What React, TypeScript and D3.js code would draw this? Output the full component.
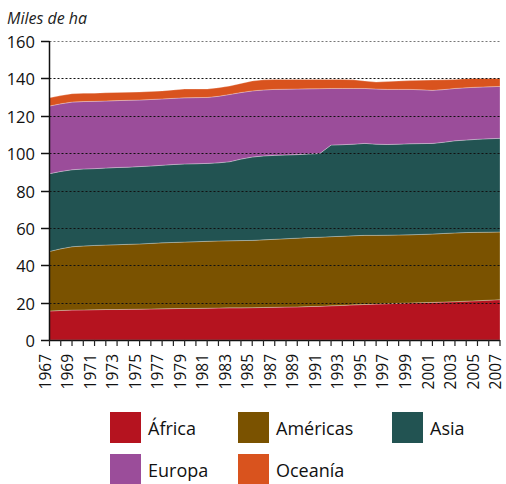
import { useEffect, useRef } from 'react';
import * as d3 from 'd3';

const years = [
  1967, 1968, 1969, 1970, 1971, 1972, 1973, 1974, 1975, 1976, 1977, 1978, 1979, 1980,
  1981, 1982, 1983, 1984, 1985, 1986, 1987, 1988, 1989, 1990, 1991, 1992, 1993, 1994,
  1995, 1996, 1997, 1998, 1999, 2000, 2001, 2002, 2003, 2004, 2005, 2006, 2007,
];

// thousand ha, per region (not cumulative)
const africa = [
  15.5, 15.8, 16.0, 16.1, 16.2, 16.3, 16.3, 16.4, 16.5, 16.6, 16.7, 16.8, 16.9, 16.9,
  17.0, 17.1, 17.2, 17.2, 17.3, 17.4, 17.5, 17.6, 17.7, 17.9, 18.0, 18.3, 18.5, 18.8,
  19.0, 19.2, 19.4, 19.6, 19.8, 20.0, 20.1, 20.3, 20.5, 20.8, 21.0, 21.3, 21.6,
];
const americas = [
  31.9, 33.0, 33.9, 34.2, 34.4, 34.5, 34.7, 34.8, 34.9, 35.1, 35.3, 35.4, 35.5, 35.7,
  35.8, 35.9, 35.9, 36.0, 36.0, 36.2, 36.4, 36.6, 36.8, 36.9, 37.0, 37.0, 37.0, 37.0,
  37.0, 36.8, 36.7, 36.6, 36.5, 36.5, 36.6, 36.7, 36.8, 36.7, 36.6, 36.4, 36.2,
];
const asia = [
  41.6, 41.4, 41.2, 41.2, 41.1, 41.2, 41.3, 41.3, 41.4, 41.4, 41.5, 41.7, 41.8, 41.7,
  41.7, 41.8, 42.3, 43.6, 44.6, 44.9, 44.9, 44.8, 44.7, 44.7, 44.8, 49.0, 49.0, 49.0,
  49.2, 48.8, 48.5, 48.6, 48.7, 48.6, 48.5, 48.8, 49.3, 49.5, 49.8, 50.0, 50.1,
];
const europa = [
  36.2, 36.2, 36.2, 36.1, 36.0, 35.9, 35.8, 35.8, 35.6, 35.6, 35.5, 35.4, 35.4, 35.4,
  35.3, 35.6, 36.0, 35.6, 35.4, 35.3, 35.3, 35.2, 35.1, 34.9, 34.7, 30.3, 30.1, 29.8,
  29.4, 29.5, 29.5, 29.3, 29.1, 28.8, 28.4, 28.2, 28.0, 28.0, 27.9, 27.8, 27.8,
];
const oceania = [
  4.4, 4.4, 4.5, 4.4, 4.4, 4.4, 4.4, 4.3, 4.3, 4.3, 4.3, 4.5, 4.7, 4.6,
  4.5, 4.6, 4.5, 4.9, 5.3, 5.4, 5.3, 5.2, 5.1, 5.0, 4.9, 4.8, 4.8, 4.6,
  4.0, 3.7, 4.2, 4.5, 4.7, 5.1, 5.5, 5.2, 4.8, 4.8, 4.7, 4.5, 4.3,
];

const seriesNames = ['África', 'Américas', 'Asia', 'Europa', 'Oceanía'];
const seriesColors = ['#b5131f', '#7a5200', '#225352', '#9b4d9a', '#d9531e'];
const yTicks = [0, 20, 40, 60, 80, 100, 120, 140, 160];

const W = 506;
const H = 484;
const FONT = '"Open Sans", "Noto Sans", sans-serif';

export default function App() {
  const svgRef = useRef<SVGSVGElement>(null);

  useEffect(() => {
    if (!svgRef.current) return;
    const svg = d3.select(svgRef.current);
    svg.selectAll('*').remove();

    const values = [africa, americas, asia, europa, oceania];
    const rows = years.map((year, i) => {
      const row: Record<string, number> = { year };
      seriesNames.forEach((name, s) => { row[name] = values[s][i]; });
      return row;
    });

    const x = d3.scaleLinear().domain([1967, 2007]).range([49.5, 500]);
    const y = d3.scaleLinear().domain([0, 160]).range([340, 41]);

    const stacked = d3.stack<Record<string, number>>().keys(seriesNames)(rows);
    const area = d3.area<d3.SeriesPoint<Record<string, number>>>()
      .x(d => x(d.data.year))
      .y0(d => y(d[0]))
      .y1(d => y(d[1]));

    // Stacked areas
    svg.append('g')
      .selectAll('path')
      .data(stacked)
      .enter()
      .append('path')
      .attr('d', area)
      .attr('fill', (d, i) => seriesColors[i])
      .attr('stroke', 'rgba(255,255,255,0.45)')
      .attr('stroke-width', 0.6);

    // Gridlines on top
    svg.append('g')
      .selectAll('line')
      .data(yTicks.filter(t => t > 0))
      .enter()
      .append('line')
      .attr('x1', 49.5)
      .attr('x2', 500)
      .attr('y1', d => Math.round(y(d)) + 0.5)
      .attr('y2', d => Math.round(y(d)) + 0.5)
      .attr('stroke', d => (d === 160 ? '#777' : '#111'))
      .attr('stroke-width', 1)
      .attr('stroke-dasharray', '2,2');

    // Y axis
    const yAxis = svg.append('g');
    yAxis.append('line')
      .attr('x1', 49.5).attr('x2', 49.5)
      .attr('y1', y(160)).attr('y2', y(0))
      .attr('stroke', '#111').attr('stroke-width', 1.5);
    yTicks.forEach(t => {
      const ty = Math.round(y(t)) + 0.5;
      yAxis.append('line')
        .attr('x1', 41).attr('x2', 49.5)
        .attr('y1', ty).attr('y2', ty)
        .attr('stroke', '#111').attr('stroke-width', 1.5);
      yAxis.append('text')
        .attr('x', 35)
        .attr('y', ty)
        .attr('dy', '0.42em')
        .attr('text-anchor', 'end')
        .attr('font-size', '16.5px')
        .attr('fill', '#111')
        .style('font-family', FONT)
        .text(t);
    });

    // X axis
    const xAxis = svg.append('g');
    xAxis.append('line')
      .attr('x1', 49.5).attr('x2', 500)
      .attr('y1', 340.5).attr('y2', 340.5)
      .attr('stroke', '#111').attr('stroke-width', 1.5);
    years.forEach(yr => {
      const tx = x(yr);
      xAxis.append('line')
        .attr('x1', tx).attr('x2', tx)
        .attr('y1', 340).attr('y2', 346)
        .attr('stroke', '#222').attr('stroke-width', 1.2);
    });
    years.filter((yr, i) => i % 2 === 0).forEach(yr => {
      xAxis.append('text')
        .attr('transform', `translate(${x(yr) - 2}, 354) rotate(-90)`)
        .attr('dy', '0.2em')
        .attr('text-anchor', 'end')
        .attr('font-size', '15.5px')
        .attr('fill', '#111')
        .style('font-family', FONT)
        .text(yr);
    });

    // Unit label
    svg.append('text')
      .attr('x', 7)
      .attr('y', 24)
      .attr('font-size', '16px')
      .attr('font-style', 'italic')
      .attr('fill', '#222')
      .style('font-family', FONT)
      .text('Miles de ha');

    // Legend
    const legendX = [110, 238, 392];
    const legendY = [412, 454];
    const legend = svg.append('g');
    seriesNames.forEach((name, i) => {
      const lx = legendX[i % 3];
      const ly = legendY[Math.floor(i / 3)];
      legend.append('rect')
        .attr('x', lx).attr('y', ly)
        .attr('width', 31).attr('height', 31)
        .attr('fill', seriesColors[i]);
      legend.append('text')
        .attr('x', lx + 38)
        .attr('y', ly + 23)
        .attr('font-size', '18px')
        .attr('fill', '#111')
        .style('font-family', FONT)
        .text(name);
    });
  }, []);

  return (
    <svg
      ref={svgRef}
      width={W}
      height={H}
      style={{ position: 'absolute', left: 0, top: 0, background: '#fff' }}
    />
  );
}
